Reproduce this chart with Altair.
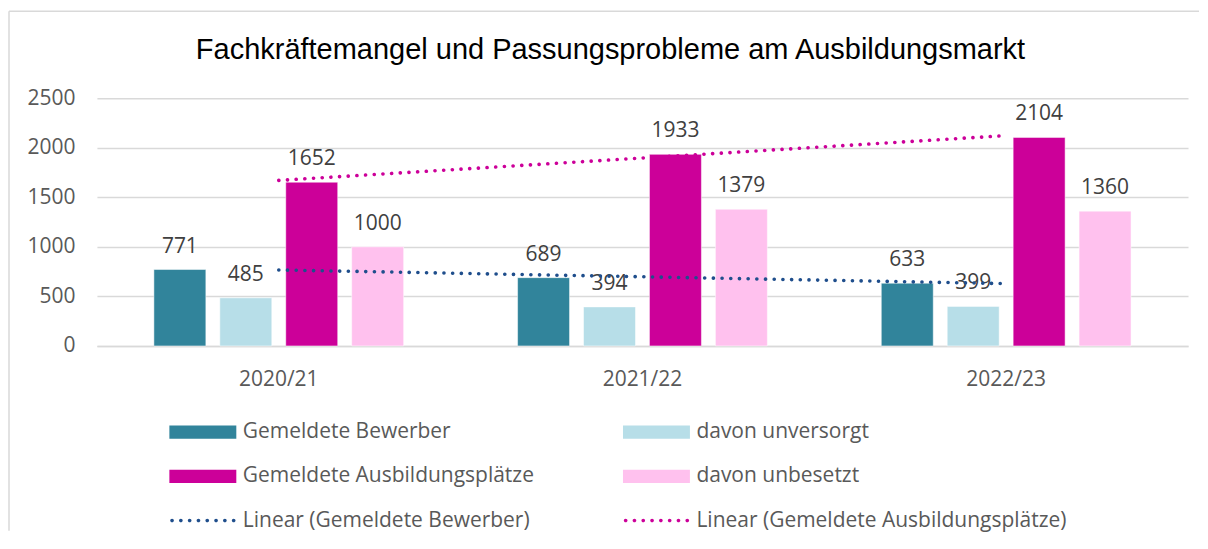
import altair as alt
import pandas as pd

# ---- data ----
jahre = ["2020/21", "2021/22", "2022/23"]
jahr_idx = [0, 1, 2]
bewerber = [771, 689, 633]
unversorgt = [485, 394, 399]
plaetze = [1652, 1933, 2104]
unbesetzt = [1000, 1379, 1360]

series_names = ["Gemeldete Bewerber", "davon unversorgt",
                "Gemeldete Ausbildungsplätze", "davon unbesetzt"]
bar_colors = ["#31849B", "#B7DEE8", "#CC0099", "#FFC1EE"]
trend_series = ["Gemeldete Bewerber", "Gemeldete Ausbildungsplätze"]
trend_colors = ["#1F4E8C", "#CC0099"]

legend_labels = ["Gemeldete Bewerber", "davon unversorgt",
                 "Gemeldete Ausbildungsplätze", "davon unbesetzt",
                 "Linear (Gemeldete Bewerber)", "Linear (Gemeldete Ausbildungsplätze)"]
legend_cols = [0, 1, 0, 1, 0, 1]
legend_rows = [0, 0, 1, 1, 2, 2]
legend_colors = bar_colors + trend_colors

y_ticks = [0, 500, 1000, 1500, 2000, 2500]
title_text = "Fachkräftemangel und Passungsprobleme am Ausbildungsmarkt"

# ---- tables ----
rows = []
for s, vals in zip(series_names, [bewerber, unversorgt, plaetze, unbesetzt]):
    for j, i, v in zip(jahre, jahr_idx, vals):
        rows.append({"series": s, "jahr": j, "idx": i, "value": v})
df = pd.DataFrame(rows)

# legend symbol shapes (styling)
rect_path = "M-1,-0.2H1V0.2H-1Z"
r = 0.055
dots = []
for k in range(8):
    c = -0.92 + k * 0.263
    dots.append(f"M{c - r:.3f},0A{r},{r} 0 1,0 {c + r:.3f},0A{r},{r} 0 1,0 {c - r:.3f},0Z")
dot_path = "".join(dots)
legend_shapes = [rect_path] * 4 + [dot_path] * 2

leg_df = pd.DataFrame({"label": legend_labels, "col": legend_cols, "row": legend_rows})

FONT = "Open Sans"
FS = 21
GRID = "#D9D9D9"

W, H = 1092, 248

y_scale = alt.Scale(domain=[0, 2500], nice=False, zero=True)

x_band = alt.X("jahr:N", sort=jahre,
               scale=alt.Scale(paddingInner=0, paddingOuter=0),
               axis=alt.Axis(title=None, labelAngle=0, ticks=False, domain=True,
                             domainColor=GRID, domainWidth=1.5, labelPadding=23))
x_off = alt.XOffset("series:N", sort=series_names,
                    scale=alt.Scale(paddingInner=0.212, paddingOuter=0.864))
y_enc = alt.Y("value:Q", scale=y_scale,
              axis=alt.Axis(title=None, values=y_ticks, format="d",
                            grid=True, gridColor=GRID, gridWidth=1.5,
                            domain=False, ticks=False, labelPadding=22))

base = alt.Chart(df)
bars = base.mark_bar(stroke="white", strokeWidth=0.5).encode(
    x=x_band, xOffset=x_off, y=y_enc,
    color=alt.Color("series:N", scale=alt.Scale(domain=series_names, range=bar_colors), legend=None),
)
labels = base.mark_text(dy=-17, baseline="alphabetic", fontSize=FS, font=FONT, color="#404040").encode(
    x=x_band, xOffset=x_off, y=alt.Y("value:Q", scale=y_scale), text="value:Q"
)
bar_layer = alt.layer(bars, labels)

trend = alt.Chart(df).transform_filter(
    alt.FieldOneOfPredicate(field="series", oneOf=trend_series)
).transform_regression("idx", "value", groupby=["series"], extent=[0, 2]).mark_line(
    strokeDash=[0.1, 8.6], strokeCap="round", strokeWidth=3.6
).encode(
    x=alt.X("idx:Q", scale=alt.Scale(domain=[-0.5, 2.5], nice=False, zero=False), axis=None),
    y=alt.Y("value:Q", scale=y_scale),
    color=alt.Color("series:N", scale=alt.Scale(domain=trend_series, range=trend_colors), legend=None),
)

main = alt.layer(bar_layer, trend).resolve_scale(
    x="independent", color="independent", xOffset="independent"
).properties(
    width=W, height=H,
    title=alt.Title(title_text, fontSize=29, font="Liberation Sans", fontWeight="normal",
                    color="#000000", anchor="middle", frame="group", dx=-32, offset=22),
)

# ---- legend panel (with the outer chart frame) ----
LEG_H = 115
lx = alt.X("col:O", scale=alt.Scale(type="point", padding=0.2335), axis=None)
ly = alt.Y("row:O", scale=alt.Scale(type="point", padding=0.3), axis=None)
leg_base = alt.Chart(leg_df)
leg_sym = leg_base.mark_point(filled=True, size=4489, opacity=1, strokeWidth=0).encode(
    x=lx, y=ly,
    color=alt.Color("label:N", scale=alt.Scale(domain=legend_labels, range=legend_colors), legend=None),
    shape=alt.Shape("label:N", scale=alt.Scale(domain=legend_labels, range=legend_shapes), legend=None),
)
leg_txt = leg_base.mark_text(align="left", dx=40, baseline="middle", fontSize=FS,
                             font=FONT, color="#595959").encode(x=lx, y=ly, text="label:N")

frame_src = alt.Chart(pd.DataFrame({"f": [0]}))
frame_top = frame_src.mark_rule(color=GRID, strokeWidth=1.5).encode(
    x=alt.value(-88), x2=alt.value(1103), y=alt.value(-408))
frame_left = frame_src.mark_rule(color=GRID, strokeWidth=1.5).encode(
    x=alt.value(-88), y=alt.value(-408), y2=alt.value(112))

legend = alt.layer(frame_top, frame_left, leg_sym, leg_txt).properties(width=666, height=LEG_H)

chart = alt.VConcatChart(
    vconcat=[main, legend], spacing=73, bounds="flush",
).properties(
    padding={"left": 0, "top": 2, "right": 0, "bottom": 0}
).configure_view(stroke=None).configure_axis(
    labelFont=FONT, labelFontSize=FS, labelColor="#595959"
)

chart.save("out.html", embed_options={"renderer": "svg", "actions": False})
